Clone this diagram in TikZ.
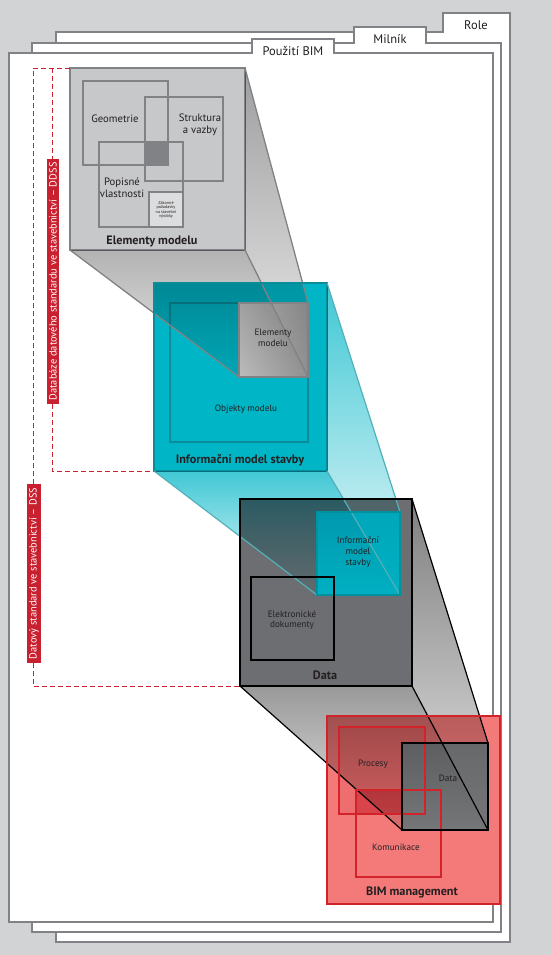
\documentclass[tikz,border=0pt]{standalone}
\usepackage{fontspec}
\setmainfont{PT Sans}
\usetikzlibrary{calc}
\definecolor{bgc}{HTML}{D1D3D4}
\definecolor{sheetgray}{HTML}{808285}
\definecolor{emfill}{HTML}{C7C8CA}
\definecolor{zakfill}{HTML}{DCDDDE}
\definecolor{cyanf}{HTML}{00B5C6}
\definecolor{cyanline}{HTML}{0A8D9B}
\definecolor{datafill}{HTML}{6D6E71}
\definecolor{bimfill}{HTML}{F47A7A}
\definecolor{bimline}{HTML}{D2232A}
\definecolor{ddred}{HTML}{C8202F}
\definecolor{txt}{HTML}{231F20}
\begin{document}
\begin{tikzpicture}[x=1pt,y=-1pt,
  sheet/.style={fill=white,draw=sheetgray,line width=1.6pt,line join=miter},
  tab/.style={font=\fontsize{12.5}{14}\selectfont,text=txt,inner sep=0pt},
  box/.style={inner sep=0pt,outer sep=0pt,anchor=north west,line width=1.6pt},
  lbl/.style={inner sep=0pt,align=center,text=txt,font=\fontsize{9.2}{10.6}\selectfont},
  mlbl/.style={inner sep=0pt,align=center,text=txt,font=\fontsize{10.7}{12.4}\selectfont},
  blbl/.style={inner sep=0pt,align=center,text=txt,font=\bfseries\fontsize{12.2}{14}\selectfont},
  ddash/.style={draw=ddred,line width=0.9pt,dash pattern=on 5pt off 3pt},
  redlbl/.style={fill=ddred,text=white,rotate=90,inner xsep=3.5pt,inner ysep=2pt,font=\fontsize{10.4}{11}\selectfont},
  grayface/.style={top color=black!38,bottom color=black!8,blend mode=multiply},
  cyanface/.style={top color=cyanf!75,bottom color=cyanf!8,blend mode=multiply},
  dataface/.style={top color=black!50,bottom color=black!10,blend mode=multiply}
]
\fill[bgc] (0,0) rectangle (551,955);
\useasboundingbox (0,0) rectangle (551,955);
% sheets
\draw[sheet] (56,32) -- (443,32) -- (443,13) -- (510,13) -- (510,942) -- (56,942) -- cycle;
\node[tab] (trole) at (476,25) {Role};
\draw[sheet] (32,43) -- (354,43) -- (354,27) -- (426,27) -- (426,43) -- (501,43) -- (501,932) -- (32,932) -- cycle;
\node[tab] (tmil) at (390,39) {Milník};
\draw[sheet] (9,53) -- (252,53) -- (252,39) -- (334,39) -- (334,53) -- (493,53) -- (493,922) -- (9,922) -- cycle;
\node[tab] (tpou) at (293,51) {Použití BIM};

% elementy modelu
\node[box,fill=emfill,draw=sheetgray,minimum width=175pt,minimum height=182pt] (em) at (70,68) {};
\node[box,fill=sheetgray,minimum width=23pt,minimum height=23pt] (dark) at (145,142) {};
\node[box,draw=sheetgray,minimum width=85pt,minimum height=84pt] (geo) at (83,81) {};
\node[box,draw=sheetgray,minimum width=78pt,minimum height=84pt] (str) at (145,97) {};
\node[box,draw=sheetgray,minimum width=84pt,minimum height=85pt] (pop) at (99,142) {};
\node[box,fill=zakfill,draw=sheetgray,minimum width=34pt,minimum height=35pt] (zak) at (149,192) {};

% informacni model stavby
\node[box,fill=cyanf,draw=cyanline,minimum width=173pt,minimum height=188pt] (ims) at (154,283) {};
\node[box,draw=cyanline,line width=1.4pt,minimum width=138pt,minimum height=139pt] (obj) at (170,303) {};
\node[box,left color=black!20,right color=black!38,minimum width=69pt,minimum height=74pt] (emsmall) at (239,303) {};

% frustum elementy -> small
\shade[grayface] (em.north east) -- (emsmall.north east) -- (emsmall.south east) -- (em.south east) -- cycle;
\shade[grayface,top color=black!30] (em.south west) -- (em.south east) -- (emsmall.south east) -- (emsmall.south west) -- cycle;
\draw[sheetgray,line width=1.3pt] (em.north east) -- (emsmall.north east);
\draw[sheetgray,line width=1.3pt] (em.south east) -- (emsmall.south east);
\draw[sheetgray,line width=1.3pt] (em.south west) -- (emsmall.south west);
\draw[sheetgray,line width=1.4pt] (emsmall.north west) rectangle (emsmall.south east);
\draw[cyanline,line width=1.6pt] (ims.north west) rectangle (ims.south east);

% data
\node[box,fill=datafill,draw=black,minimum width=172pt,minimum height=187pt] (data) at (240,499) {};
\node[box,fill=cyanf,minimum width=83pt,minimum height=83pt] (imssmall) at (317,512) {};
\shade[cyanface] (ims.north east) -- (imssmall.north east) -- (imssmall.south east) -- (ims.south east) -- cycle;
\shade[cyanface] (ims.south west) -- (ims.south east) -- (imssmall.south east) -- (imssmall.south west) -- cycle;
\draw[cyanline!70!white,line width=1.2pt] (ims.north east) -- (imssmall.north east);
\draw[cyanline!70!white,line width=1.2pt] (ims.south east) -- (imssmall.south east);
\draw[cyanline!70!white,line width=1.2pt] (ims.south west) -- (imssmall.south west);
\draw[cyanf!80!black,line width=1.4pt] (imssmall.north west) rectangle (imssmall.south east);
\node[box,draw=black,line width=1.8pt,minimum width=83pt,minimum height=83pt] (elek) at (251,577) {};
\draw[black,line width=1.6pt] (data.north west) rectangle (data.south east);

% BIM
\node[box,fill=bimfill,draw=bimline,minimum width=173pt,minimum height=188pt] (bim) at (327,716) {};
\node[box,fill=bimline,fill opacity=0.15,minimum width=86pt,minimum height=87pt] (proc) at (339,727) {};
\node[box,minimum width=85pt,minimum height=87pt] (kom) at (356,790) {};
\fill[bimline!85!white] (kom.north west) rectangle (proc.south east);
\node[box,fill=datafill!85!white,minimum width=86pt,minimum height=87pt] (datasmall) at (402,743) {};
\shade[dataface] (data.north east) -- (datasmall.north east) -- (datasmall.south east) -- (data.south east) -- cycle;
\shade[dataface,top color=black!40] (data.south west) -- (data.south east) -- (datasmall.south east) -- (datasmall.south west) -- cycle;
\draw[black,line width=1.2pt] (data.north east) -- (datasmall.north east);
\draw[black,line width=1.2pt] (data.south east) -- (datasmall.south east);
\draw[black,line width=1.2pt] (data.south west) -- (datasmall.south west);
\draw[bimline,line width=1.6pt] (proc.north west) rectangle (proc.south east);
\draw[bimline,line width=1.6pt] (kom.north west) rectangle (kom.south east);
\draw[black,line width=2.2pt] (datasmall.north west) rectangle (datasmall.south east);
\draw[bimline,line width=1.6pt] (bim.north west) rectangle (bim.south east);

% dashed brackets
\coordinate (dtop) at (33,68);
\coordinate (dtop2) at (52,68);
\draw[ddash] (em.north west) -- (dtop) |- (data.south west);
\draw[ddash] (dtop2) |- (ims.south west);

% labels
\node[mlbl] (lgeo) at (115,119) {Geometrie};
\node[mlbl] (lstr) at (200,125) {Struktura\\a vazby};
\node[mlbl] (lpop) at (122,188) {Popisné\\vlastnosti};
\node[lbl,font=\fontsize{4.2}{4.5}\selectfont] (lzak) at (166,210) {Zákonné\\požadavky\\na stavební\\výrobky};
\node[blbl] (lem) at (152,241) {Elementy modelu};
\node[lbl] (lems) at (273,338) {Elementy\\modelu};
\node[lbl] (lobj) at (246,409) {Objekty modelu};
\node[blbl] (lims) at (240,460) {Informační model stavby};
\node[lbl] (limss) at (358,552) {Informační\\model\\stavby};
\node[lbl] (lelek) at (292,620) {Elektronické\\dokumenty};
\node[blbl] (ldata) at (325,675) {Data};
\node[lbl] (lproc) at (373,764) {Procesy};
\node[lbl] (lds) at (448,778) {Data};
\node[lbl] (lkom) at (396,847) {Komunikace};
\node[blbl] (lbim) at (412,892) {BIM management};

% red labels
\node[redlbl] (lddss) at (53,281.5) {Databáze datového standardu ve stavebnictví – DDSS};
\node[redlbl] (ldss) at (34,573.5) {Datový standard ve stavebnictví – DSS};
\end{tikzpicture}
\end{document}
